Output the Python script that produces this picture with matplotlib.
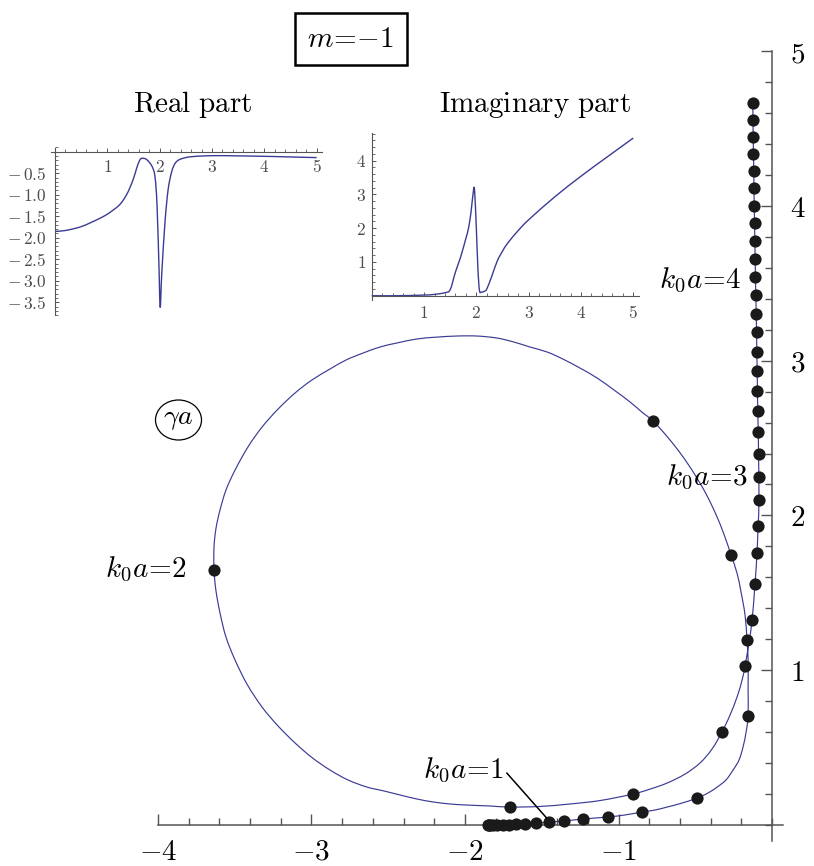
import matplotlib
matplotlib.use('Agg')
import matplotlib.pyplot as plt
from matplotlib.ticker import FixedLocator, MultipleLocator, FuncFormatter
from matplotlib.path import Path
from matplotlib.patches import PathPatch, Ellipse

plt.rcParams['mathtext.fontset'] = 'cm'
plt.rcParams['font.family'] = ['DejaVu Serif']

# ---------------- data ----------------
# dots: k0a = 0.0, 0.1, ..., 5.0  (gamma*a, real / imaginary)
dot_re = [-1.850, -1.845, -1.835, -1.815, -1.790, -1.755, -1.715, -1.668, -1.609, -1.537,
          -1.453, -1.355, -1.231, -1.068, -0.847, -0.489, -0.156, -0.163, -0.267, -0.775,
          -3.635, -1.707, -0.906, -0.326, -0.176, -0.130, -0.111, -0.098, -0.091, -0.085,
          -0.085, -0.088, -0.090, -0.093, -0.095, -0.097, -0.099, -0.101, -0.103, -0.106,
          -0.108, -0.110, -0.112, -0.114, -0.116, -0.118, -0.119, -0.121, -0.123, -0.124, -0.126]
dot_im = [0.000, 0.000, 0.000, 0.001, 0.001, 0.002, 0.003, 0.004, 0.006, 0.011,
          0.019, 0.026, 0.039, 0.052, 0.084, 0.174, 0.704, 1.195, 1.744, 2.610,
          1.647, 0.116, 0.200, 0.601, 1.027, 1.324, 1.557, 1.757, 1.931, 2.099,
          2.248, 2.397, 2.539, 2.674, 2.804, 2.933, 3.056, 3.185, 3.303, 3.424,
          3.540, 3.656, 3.773, 3.889, 4.001, 4.115, 4.225, 4.335, 4.446, 4.556, 4.666]

# continuous trajectory (k0a from 0 to 3.0), then continues through the dots above
curve_re = [-1.850, -1.772, -1.668, -1.609, -1.537, -1.453, -1.355, -1.231, -1.068, -0.958,
            -0.847, -0.762, -0.684, -0.586, -0.489, -0.417, -0.358, -0.300, -0.254, -0.215,
            -0.189, -0.169, -0.156, -0.156, -0.156, -0.163, -0.176, -0.202, -0.228, -0.267,
            -0.312, -0.367, -0.431, -0.505, -0.587, -0.677, -0.775, -0.847, -0.925, -1.029,
            -1.140, -1.251, -1.362, -1.466, -1.577, -1.681, -1.792, -1.922, -2.052, -2.182,
            -2.313, -2.443, -2.554, -2.664, -2.775, -2.879, -2.997, -3.107, -3.218, -3.322,
            -3.414, -3.498, -3.557, -3.596, -3.622, -3.635, -3.635, -3.622, -3.596, -3.557,
            -3.498, -3.420, -3.322, -3.218, -3.107, -2.997, -2.879, -2.762, -2.638, -2.528,
            -2.423, -2.313, -2.208, -2.098, -1.987, -1.837, -1.707, -1.511, -1.316, -1.121,
            -0.906, -0.795, -0.684, -0.567, -0.469, -0.391, -0.326, -0.274, -0.228, -0.195,
            -0.176, -0.150, -0.130, -0.111, -0.098, -0.091, -0.085]
curve_im = [0.000, 0.000, 0.000, 0.006, 0.011, 0.019, 0.026, 0.039, 0.052, 0.065,
            0.084, 0.097, 0.116, 0.142, 0.174, 0.207, 0.245, 0.291, 0.355, 0.420,
            0.504, 0.601, 0.704, 0.872, 1.066, 1.195, 1.357, 1.505, 1.627, 1.744,
            1.875, 2.010, 2.141, 2.267, 2.388, 2.502, 2.610, 2.667, 2.733, 2.810,
            2.888, 2.952, 3.010, 3.056, 3.088, 3.120, 3.146, 3.159, 3.159, 3.152,
            3.140, 3.114, 3.088, 3.049, 3.004, 2.946, 2.875, 2.791, 2.687, 2.571,
            2.442, 2.293, 2.164, 2.035, 1.917, 1.796, 1.647, 1.512, 1.370, 1.214,
            1.066, 0.910, 0.762, 0.640, 0.530, 0.436, 0.355, 0.291, 0.245, 0.220,
            0.194, 0.168, 0.149, 0.136, 0.129, 0.123, 0.116, 0.120, 0.136, 0.158,
            0.200, 0.232, 0.271, 0.329, 0.401, 0.491, 0.601, 0.710, 0.827, 0.937,
            1.027, 1.182, 1.324, 1.557, 1.757, 1.931, 2.099]

# inset: real part vs k0a
re_k = [0.0, 0.2, 0.5, 0.8, 1.0, 1.2, 1.3, 1.4, 1.5, 1.56, 1.62, 1.67, 1.75, 1.85, 1.91,
        1.95, 1.99, 2.01, 2.04, 2.10, 2.16, 2.23, 2.30, 2.40, 2.60, 3.0, 3.5, 4.0, 4.5, 5.0]
re_v = [-1.85, -1.83, -1.74, -1.58, -1.45, -1.27, -1.13, -0.92, -0.62, -0.38, -0.19, -0.15,
        -0.18, -0.33, -0.58, -1.27, -2.83, -3.62, -2.83, -1.66, -0.89, -0.46, -0.26, -0.17,
        -0.115, -0.09, -0.095, -0.105, -0.12, -0.135]

# inset: imaginary part vs k0a
im_k = [0.0, 0.5, 1.0, 1.2, 1.4, 1.5, 1.6, 1.7, 1.8, 1.85, 1.9, 1.95, 1.97, 2.0, 2.03,
        2.06, 2.1, 2.15, 2.2, 2.3, 2.4, 2.5, 2.6, 2.8, 3.0, 3.5, 4.0, 4.5, 5.0]
im_v = [0.0, 0.0, 0.02, 0.04, 0.09, 0.18, 0.70, 1.15, 1.70, 2.00, 2.50, 3.18, 3.02, 2.00,
        0.80, 0.15, 0.11, 0.13, 0.20, 0.60, 1.03, 1.32, 1.56, 1.93, 2.25, 2.93, 3.54, 4.11, 4.67]

main_xticks = [-4, -3, -2, -1]
main_yticks = [1, 2, 3, 4, 5]
re_xticks = [1, 2, 3, 4, 5]
re_yticks = [-0.5, -1.0, -1.5, -2.0, -2.5, -3.0, -3.5]
im_xticks = [1, 2, 3, 4, 5]
im_yticks = [1, 2, 3, 4]

# ---------------- figure ----------------
W, H = 814, 866
fig = plt.figure(figsize=(W / 100, H / 100), dpi=100)


def box(x0, x1, y0, y1):
    return [x0 / W, 1 - y1 / H, (x1 - x0) / W, (y1 - y0) / H]


def smooth_path(xs, ys):
    """Smooth Bezier path passing through the given points (Catmull-Rom style)."""
    pts = list(zip(xs, ys))
    n = len(pts)
    verts = [pts[0]]
    codes = [Path.MOVETO]
    for i in range(n - 1):
        p0 = pts[i - 1] if i > 0 else pts[i]
        p1 = pts[i]
        p2 = pts[i + 1]
        p3 = pts[i + 2] if i + 2 < n else pts[i + 1]
        c1 = (p1[0] + (p2[0] - p0[0]) / 6, p1[1] + (p2[1] - p0[1]) / 6)
        c2 = (p2[0] - (p3[0] - p1[0]) / 6, p2[1] - (p3[1] - p1[1]) / 6)
        verts += [c1, c2, p2]
        codes += [Path.CURVE4] * 3
    return Path(verts, codes)


LINE = '#3b3b96'
AXC = '#555555'

ax = fig.add_axes(box(150.3, 787.4, 43.3, 843.6))
ax.set_xlim(-4.05, 0.1)
ax.set_ylim(-0.12, 5.05)
ax.patch.set_visible(False)
for s in ['top', 'left']:
    ax.spines[s].set_visible(False)
ax.spines['right'].set_position(('data', 0))
ax.spines['bottom'].set_position(('data', 0))
ax.spines['bottom'].set_bounds(-4.0, 0.07)
ax.spines['right'].set_bounds(-0.1, 5.0)
for s in ['right', 'bottom']:
    ax.spines[s].set_color(AXC)
    ax.spines[s].set_linewidth(1.1)
ax.yaxis.tick_right()
ax.xaxis.set_major_locator(FixedLocator(main_xticks))
ax.yaxis.set_major_locator(FixedLocator(main_yticks))
ax.xaxis.set_minor_locator(MultipleLocator(0.2))
ax.yaxis.set_minor_locator(MultipleLocator(0.2))
fmt_int = FuncFormatter(lambda v, p: r'$%d$' % round(v))
ax.xaxis.set_major_formatter(fmt_int)
ax.yaxis.set_major_formatter(fmt_int)
ax.tick_params(which='major', direction='in', length=8, width=1.0, color=AXC,
               labelsize=21, labelcolor='black')
ax.tick_params(which='minor', direction='in', length=5, width=1.0, color=AXC)
ax.tick_params(axis='x', which='major', pad=9)
ax.tick_params(axis='y', which='major', pad=13)

ax.add_patch(PathPatch(smooth_path(curve_re + dot_re[31:], curve_im + dot_im[31:]),
                       fc='none', ec=LINE, lw=0.85, zorder=2, clip_on=False))
ax.plot(dot_re, dot_im, 'o', color='#1a1a1a', ms=8.8, mew=0, zorder=3, clip_on=False)

FS = 21
ax.text(-3.811, 1.602, r'$k_0a\!=\!2$', ha='right', va='baseline', fontsize=FS)
ax.text(-0.154, 2.196, r'$k_0a\!=\!3$', ha='right', va='baseline', fontsize=FS)
ax.text(-0.198, 3.471, r'$k_0a\!=\!4$', ha='right', va='baseline', fontsize=FS)
ax.text(-1.746, 0.306, r'$k_0a\!=\!1$', ha='right', va='baseline', fontsize=FS)
ax.annotate('', xy=(-1.468, 0.045), xytext=(-1.728, 0.336),
            arrowprops=dict(arrowstyle='-', color='black', lw=1.1, shrinkA=0, shrinkB=0))

# circled (gamma a) label
fig.text(178 / W, 1 - 419 / H, r'$\gamma a$', ha='center', va='center', fontsize=20)
fig.add_artist(Ellipse((178.5 / W, 1 - 420 / H), 46 / W, 40 / H, transform=fig.transFigure,
                       fc='none', ec='black', lw=0.9))

fig.text(351 / W, 1 - 39 / H, r'$m\!=\!{-}1$', ha='center', va='center', fontsize=21,
         bbox=dict(boxstyle='square,pad=0.42', fc='white', ec='black', lw=1.8))

# ---------------- inset: real part ----------------
SMALL = 12.5
TC = '#4d4d4d'
axr = fig.add_axes(box(49.8, 321.9, 147.5, 315.2))
axr.set_xlim(-0.1, 5.1)
axr.set_ylim(-3.8, 0.1)
axr.patch.set_visible(False)
for s in ['top', 'right']:
    axr.spines[s].set_visible(False)
axr.spines['left'].set_position(('data', 0))
axr.spines['bottom'].set_position(('data', 0))
axr.spines['bottom'].set_bounds(-0.08, 5.1)
axr.spines['left'].set_bounds(-3.8, 0.08)
for s in ['left', 'bottom']:
    axr.spines[s].set_color(AXC)
    axr.spines[s].set_linewidth(0.8)
axr.xaxis.set_major_locator(FixedLocator(re_xticks))
axr.yaxis.set_major_locator(FixedLocator(re_yticks))
axr.xaxis.set_minor_locator(MultipleLocator(0.2))
axr.yaxis.set_minor_locator(MultipleLocator(0.1))
axr.xaxis.set_major_formatter(fmt_int)
axr.yaxis.set_major_formatter(FuncFormatter(lambda v, p: r'$-\,%.1f$' % abs(v)))
axr.tick_params(which='major', direction='in', length=3.2, width=0.7, color=AXC,
                labelsize=SMALL, labelcolor=TC)
axr.tick_params(which='minor', direction='in', length=2.0, width=0.6, color=AXC)
axr.tick_params(axis='x', which='major', pad=5)
axr.tick_params(axis='y', which='major', pad=6)
axr.add_patch(PathPatch(smooth_path(re_k, re_v), fc='none', ec=LINE, lw=1.0))
fig.text(192.5 / W, 1 - 112 / H, r'$\mathrm{Real\ part}$', ha='center', va='baseline',
         fontsize=21)

# ---------------- inset: imaginary part ----------------
axi = fig.add_axes(box(366.5, 638.5, 132.0, 300.8))
axi.set_xlim(-0.1, 5.1)
axi.set_ylim(-0.15, 4.85)
axi.patch.set_visible(False)
for s in ['top', 'right']:
    axi.spines[s].set_visible(False)
axi.spines['left'].set_position(('data', 0))
axi.spines['bottom'].set_position(('data', 0))
axi.spines['bottom'].set_bounds(0.0, 5.1)
axi.spines['left'].set_bounds(-0.13, 4.81)
for s in ['left', 'bottom']:
    axi.spines[s].set_color(AXC)
    axi.spines[s].set_linewidth(0.8)
axi.xaxis.set_major_locator(FixedLocator(im_xticks))
axi.yaxis.set_major_locator(FixedLocator(im_yticks))
axi.xaxis.set_minor_locator(MultipleLocator(0.2))
axi.yaxis.set_minor_locator(MultipleLocator(0.2))
axi.xaxis.set_major_formatter(fmt_int)
axi.yaxis.set_major_formatter(fmt_int)
axi.tick_params(which='major', direction='in', length=3.2, width=0.7, color=AXC,
                labelsize=SMALL, labelcolor=TC)
axi.tick_params(which='minor', direction='in', length=2.0, width=0.6, color=AXC)
axi.tick_params(axis='x', which='major', pad=7)
axi.tick_params(axis='y', which='major', pad=4)
axi.add_patch(PathPatch(smooth_path(im_k, im_v), fc='none', ec=LINE, lw=1.0))
fig.text(535 / W, 1 - 112 / H, r'$\mathrm{Imaginary\ part}$', ha='center', va='baseline',
         fontsize=21)

fig.savefig('out.png', dpi=100)
